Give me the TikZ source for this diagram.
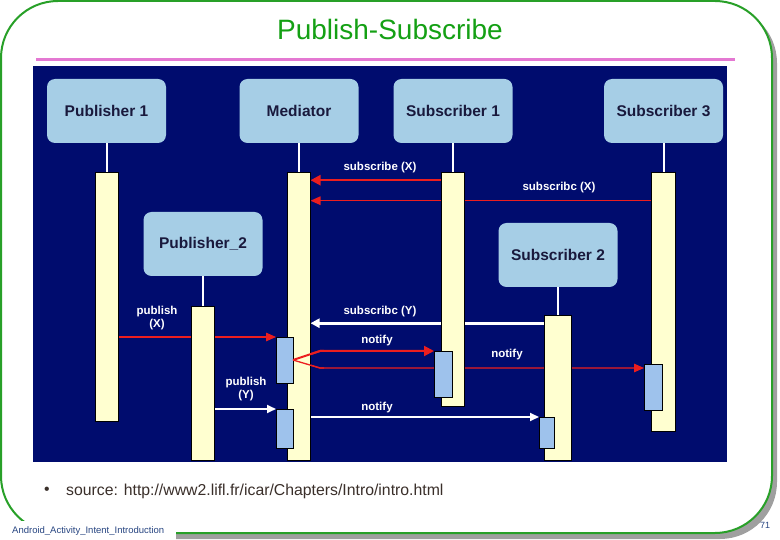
\documentclass[tikz,border=0pt]{standalone}
\usepackage{fontspec}
\setmainfont{Liberation Sans}
\usetikzlibrary{arrows.meta,positioning}
\pgfdeclarelayer{back}
\pgfdeclarelayer{msgs}
\pgfsetlayers{back,msgs,main}
\definecolor{panelblue}{RGB}{0,12,110}
\definecolor{boxblue}{RGB}{166,206,230}
\definecolor{barcream}{RGB}{255,255,208}
\definecolor{actblue}{RGB}{158,194,236}
\definecolor{msgred}{RGB}{236,30,30}
\definecolor{framegreen}{RGB}{40,160,40}
\definecolor{titlegreen}{RGB}{20,160,20}
\definecolor{rulepink}{RGB}{228,120,210}
\definecolor{labelnavy}{RGB}{25,25,60}
\definecolor{footblue}{RGB}{40,70,130}
\definecolor{sourcetext}{RGB}{58,47,42}

\begin{document}
\begin{tikzpicture}[x=1pt, y=-1pt,
    actor/.style={fill=boxblue, rounded corners=8pt, minimum width=119pt, minimum height=64pt, inner sep=0pt, text=labelnavy, font=\fontsize{15.5}{17}\selectfont\bfseries},
    lifebar/.style={draw=black, line width=0.8pt, fill=barcream, minimum width=23pt, inner sep=0pt, outer sep=0pt},
    actbox/.style={draw=black, line width=0.9pt, fill=actblue, minimum width=17pt, inner sep=0pt, outer sep=0pt, anchor=north},
    lifeline/.style={draw=white, line width=2pt},
    redbig/.style={draw=msgred, line width=2.4pt, -{Triangle[length=10pt,width=10pt]}},
    redthin/.style={draw=msgred, line width=1.3pt, -{Triangle[length=10pt,width=8.5pt]}},
    whitebig/.style={draw=white, line width=3pt, -{Triangle[length=9pt,width=9pt]}},
    whitethin/.style={draw=white, line width=2pt, -{Triangle[length=9pt,width=8pt]}},
    lbl/.style={text=white, inner sep=0pt, align=center, font=\fontsize{11.5}{13}\selectfont\bfseries}]
    \useasboundingbox (0,0) rectangle (780,540);

    \begin{pgfonlayer}{back}
        \fill[gray!75, rounded corners=57pt] (6,6) rectangle (777,539);
        \draw[framegreen, line width=2pt, fill=white, rounded corners=57pt] (1,1) rectangle (772,533);
        \fill[white] (14,521) rectangle (176,541);
        \draw[rulepink, line width=3pt] (36,60) -- (735,60);
        \fill[panelblue] (33,66) rectangle (727,462);
    \end{pgfonlayer}

    \node[font=\fontsize{28}{30}\selectfont, text=titlegreen] (title) at (390,29) {Publish-Subscribe};

    \node[actor] (pub1) at (106.5,111) {Publisher 1};
    \node[actor] (med) at (299,111) {Mediator};
    \node[actor] (sub1) at (453,111) {Subscriber 1};
    \node[actor] (sub3) at (663.5,111) {Subscriber 3};
    \node[actor] (pub2) at (203,244) {Publisher\_2};
    \node[actor] (sub2) at (558,255) {Subscriber 2};

    \node[lifebar, minimum height=249pt, below=29pt of pub1] (pub1bar) {};
    \node[lifebar, minimum height=288pt, below=29pt of med] (medbar) {};
    \node[lifebar, minimum height=234pt, below=29pt of sub1] (sub1bar) {};
    \node[lifebar, minimum height=259pt, minimum width=24pt, below=29pt of sub3] (sub3bar) {};
    \node[lifebar, minimum height=154pt, below=30pt of pub2] (pub2bar) {};
    \node[lifebar, minimum height=145pt, minimum width=27pt, below=28pt of sub2] (sub2bar) {};

    \draw[lifeline] (pub1) -- (pub1bar);
    \draw[lifeline] (med) -- (medbar);
    \draw[lifeline] (sub1) -- (sub1bar);
    \draw[lifeline] (sub3) -- (sub3bar);
    \draw[lifeline] (pub2) -- (pub2bar);
    \draw[lifeline] (sub2) -- (sub2bar);

    \node[actbox, minimum height=46pt] (medact1) at (284.5,337) {};
    \node[actbox, minimum height=39pt] (medact2) at (284.5,409) {};
    \node[actbox, minimum height=46pt, minimum width=18pt] (sub1act) at (443,351) {};
    \node[actbox, minimum height=46pt, minimum width=18pt] (sub3act) at (653,364) {};
    \node[actbox, minimum height=31pt, minimum width=15pt] (sub2act) at (546.5,417) {};

    \coordinate (subXone) at ([yshift=-8pt]sub1bar.north west);
    \coordinate (subXthree) at ([yshift=-28.5pt]sub3bar.north west);
    \coordinate (subYtwo) at ([yshift=-8pt]sub2bar.north west);
    \coordinate (upfork) at ([shift={(27pt,9pt)}]medact1.east);
    \coordinate (lowfork) at ([shift={(27pt,-8pt)}]medact1.east);

    \begin{pgfonlayer}{msgs}
        \draw[redbig] (subXone) -- (subXone -| medbar.east);
        \draw[redthin] (subXthree) -- (subXthree -| medbar.east);
        \draw[whitebig] (subYtwo) -- (subYtwo -| medbar.east);
        \draw[redthin] (pub1bar.east |- medact1.north west) -- (medact1.north west);
        \draw[redbig, line width=2pt] (medact1.east) -- (upfork) -- (upfork -| sub1act.west);
        \draw[redthin] (medact1.east) -- (lowfork) -- (lowfork -| sub3act.west);
        \draw[whitethin] (pub2bar.east |- medact2.north west) -- (medact2.north west);
        \draw[whitethin] (medact2.east |- sub2act.north west) -- (sub2act.north west);
    \end{pgfonlayer}
    \draw[msgred, line width=2pt] (medact1.east) -- (upfork) -- ([xshift=4pt]upfork);
    \draw[msgred, line width=1.3pt] (medact1.east) -- (lowfork) -- ([xshift=4pt]lowfork);

    \node[lbl] (lblsubX) at (380,168) {subscribe (X)};
    \node[lbl] (lblsubXthree) at (559,188) {subscribc (X)};
    \node[lbl] (lblsubY) at (380,312) {subscribc (Y)};
    \node[lbl] (lblpubX) at (157,318.5) {publish\\(X)};
    \node[lbl] (lblnotifyone) at (377,341) {notify};
    \node[lbl] (lblnotifythree) at (507,355) {notify};
    \node[lbl] (lblpubY) at (246,389.5) {publish\\(Y)};
    \node[lbl] (lblnotifytwo) at (377,408) {notify};

    \node[text=sourcetext, font=\fontsize{15.8}{18}\selectfont] (bullet) at (47,491) {\textbullet};
    \node[anchor=west, inner sep=0pt, text=sourcetext, font=\fontsize{15.8}{18}\selectfont] (source) at (66,491) {source: http://www2.lifl.fr/icar/Chapters/Intro/intro.html};
    \node[anchor=west, inner sep=0pt, text=footblue, font=\fontsize{9.5}{11}\selectfont] (footer) at (12,531) {Android\_Activity\_Intent\_Introduction};
    \node[text=footblue, font=\fontsize{9}{10}\selectfont] (pagenum) at (765,525) {71};
\end{tikzpicture}
\end{document}
